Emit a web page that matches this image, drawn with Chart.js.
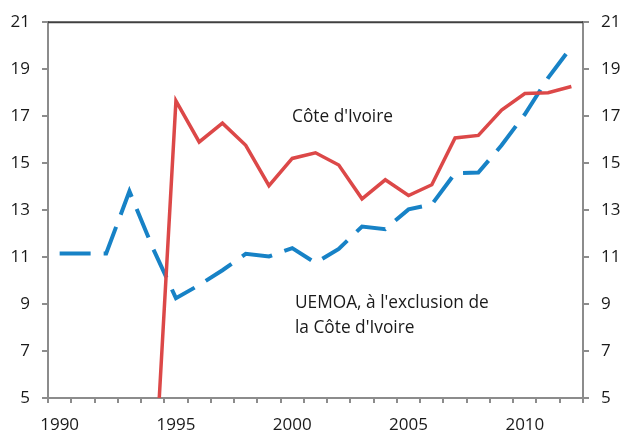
<!DOCTYPE html>
<html>
<head>
<meta charset="utf-8">
<script src="https://cdn.jsdelivr.net/npm/chart.js@4.4.0/dist/chart.umd.min.js"></script>
<style>
  html, body { margin: 0; padding: 0; background: #fff; }
  #wrap { width: 621px; height: 435px; }
</style>
</head>
<body>
<div id="wrap"><canvas id="chart"></canvas></div>
<script>
const years = [1990, 1991, 1992, 1993, 1994, 1995, 1996, 1997, 1998, 1999, 2000, 2001,
    2002, 2003, 2004, 2005, 2006, 2007, 2008, 2009, 2010, 2011, 2012];
const civ = [null, null, null, null, 0, 17.65, 15.9, 16.7, 15.76, 14.04, 15.2, 15.44,
    14.92, 13.48, 14.29, 13.62, 14.08, 16.07, 16.18, 17.26, 17.96, 18.0, 18.26];
const uemoa = [11.15, 11.15, 11.15, 13.8, 11.4, 9.25, 9.81, 10.44, 11.14, 11.03, 11.38, 10.75,
    11.35, 12.3, 12.19, 13.03, 13.24, 14.57, 14.6, 15.76, 17.08, 18.63, 19.95];
const yTicks = [5, 7, 9, 11, 13, 15, 17, 19, 21];

const FONT = "'Open Sans', sans-serif";
const axisGrey = '#8c8c8c';

// labels placed on the plot, plus the dark top border
const notes = {
    id: 'notes',
    afterDraw(chart) {
        const ctx = chart.ctx;
        const a = chart.chartArea;
        ctx.save();
        ctx.strokeStyle = '#404040';
        ctx.lineWidth = 2;
        ctx.beginPath();
        ctx.moveTo(a.left, a.top);
        ctx.lineTo(a.right, a.top);
        ctx.stroke();

        ctx.fillStyle = '#1a1a1a';
        ctx.font = '17.3px ' + FONT;
        ctx.textBaseline = 'middle';
        ctx.fillText("Côte d'Ivoire", 292, 117);
        ctx.fillText("UEMOA, à l'exclusion de", 295, 303);
        ctx.fillText("la Côte d'Ivoire", 295, 328);
        ctx.restore();
    }
};

const yScale = (pos) => ({
    type: 'linear',
    position: pos,
    min: 5,
    max: 21,
    afterBuildTicks: s => { s.ticks = yTicks.map(v => ({ value: v })); },
    afterFit: s => { s.width = pos === 'left' ? 48 : 38; },
    border: { display: true, color: axisGrey, width: 2 },
    grid: { drawOnChartArea: false, drawTicks: true, tickLength: 6, color: axisGrey, lineWidth: 2 },
    ticks: { color: '#1a1a1a', font: { family: FONT, size: 17 }, padding: 12 }
});

new Chart(document.getElementById('chart'), {
    type: 'line',
    data: {
        labels: years,
        datasets: [
            {
                label: "Côte d'Ivoire",
                data: civ,
                borderColor: '#dc4848',
                borderWidth: 3.5,
                pointRadius: 0,
                tension: 0,
                spanGaps: false
            },
            {
                label: "UEMOA, à l'exclusion de la Côte d'Ivoire",
                data: uemoa,
                borderColor: '#1782c6',
                borderWidth: 4,
                borderDash: [31, 13],
                pointRadius: 0,
                tension: 0
            }
        ]
    },
    plugins: [notes],
    options: {
        responsive: true,
        maintainAspectRatio: false,
        animation: false,
        layout: { padding: { top: 17, left: 0, right: 0, bottom: 0 } },
        plugins: {
            legend: { display: false },
            tooltip: { enabled: false }
        },
        scales: {
            x: {
                type: 'category',
                offset: true,
                afterFit: s => { s.height = 37; },
                border: { display: true, color: axisGrey, width: 2 },
                grid: { offset: true, drawOnChartArea: false, drawTicks: true, tickLength: 5, color: axisGrey, lineWidth: 2 },
                ticks: {
                    autoSkip: false,
                    maxRotation: 0,
                    color: '#1a1a1a',
                    font: { family: FONT, size: 17 },
                    padding: 12,
                    callback: function (v) {
                        const yr = years[v];
                        return yr % 5 === 0 ? String(yr) : '';
                    }
                }
            },
            y: yScale('left'),
            y2: yScale('right')
        }
    }
});
</script>
</body>
</html>
